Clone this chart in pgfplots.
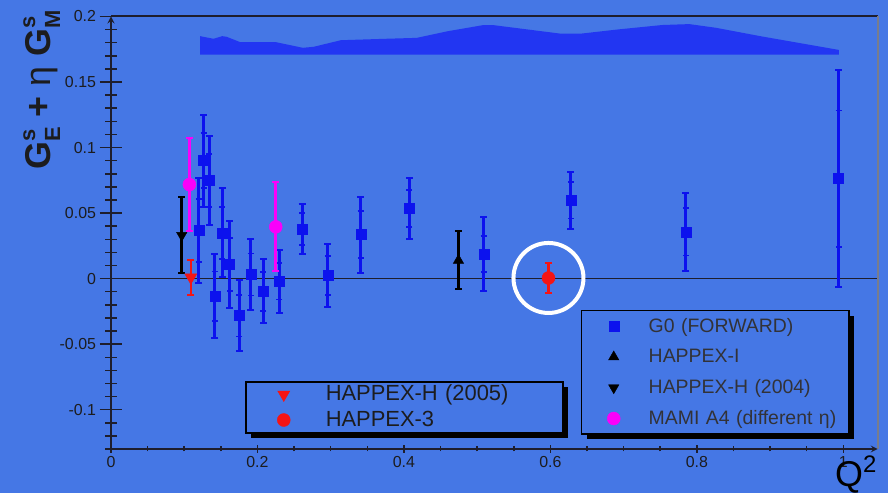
\documentclass[border=0pt]{standalone}
\usepackage{fontspec}
\setmainfont{Liberation Sans}
\usepackage{pgfplots}
\usepackage{pgfplotstable}
\pgfplotsset{compat=1.18}
\usetikzlibrary{shadows}

\definecolor{bgblue}{RGB}{69,119,229}
\definecolor{bandblue}{RGB}{34,54,242}
\definecolor{gblue}{RGB}{12,18,238}
\definecolor{axdark}{RGB}{30,30,45}
\definecolor{axgray}{RGB}{120,125,140}
\definecolor{txt}{RGB}{28,28,30}
\definecolor{legtxt}{RGB}{50,50,55}
\definecolor{mred}{RGB}{245,20,20}
\definecolor{mmag}{RGB}{250,0,250}

\pgfplotstableread{
x y e s
0.1200 0.0366 0.0400 0.024
0.1265 0.0900 0.0350 0.021
0.1340 0.0748 0.0340 0.020
0.1420 -0.0135 0.0320 0.019
0.1520 0.0349 0.0340 0.020
0.1620 0.0107 0.0330 0.020
0.1750 -0.0282 0.0270 0.016
0.1910 0.0031 0.0270 0.016
0.2080 -0.0097 0.0245 0.015
0.2300 -0.0020 0.0240 0.014
0.2610 0.0379 0.0190 0.012
0.2960 0.0025 0.0240 0.015
0.3410 0.0336 0.0290 0.018
0.4075 0.0534 0.0235 0.014
0.5090 0.0188 0.0280 0.014
0.6280 0.0598 0.0217 0.014
0.7850 0.0356 0.0300 0.018
0.9935 0.0763 0.0825 0.052
}\gzero

\pgfplotstableread{
x y
0.1217 0.1710
0.1217 0.1850
0.1400 0.1830
0.1520 0.1850
0.1580 0.1845
0.1766 0.1804
0.2254 0.1804
0.2620 0.1761
0.2770 0.1769
0.3138 0.1819
0.3749 0.1830
0.4175 0.1837
0.4602 0.1888
0.5090 0.1935
0.5210 0.1935
0.6127 0.1870
0.6430 0.1870
0.6920 0.1901
0.7527 0.1935
0.7896 0.1942
0.8260 0.1914
0.8866 0.1850
0.9939 0.1745
0.9939 0.1710
}\band

\pgfplotstableread{
x y e
0.4745 0.0139 0.0222
}\happexI

\pgfplotstableread{
x y e
0.0966 0.0330 0.0290
}\happexHa

\pgfplotstableread{
x y e
0.1070 0.0718 0.0357
0.2250 0.0395 0.0340
}\mami

\pgfplotstableread{
x y e
0.1090 0.0010 0.0134
}\happexHb

\pgfplotstableread{
x y e
0.5974 0.0005 0.0115
}\happexIII

\pgfplotsset{
  legA/.style={legend image code/.code={\path[draw=none,fill=none] (0bp,0bp) (50bp,0bp);\draw[##1] plot coordinates {(32bp,0bp)};}},
  legB/.style={legend image code/.code={\path[draw=none,fill=none] (0bp,0bp) (60bp,0bp);\draw[##1] plot coordinates {(38bp,0bp)};}},
  baseax/.style={at={(111bp,44bp)}, anchor=south west, width=766.7bp, height=432.5bp,
    scale only axis, xmin=0, xmax=1.047, ymin=-0.13, ymax=0.2, clip=false,
    axis line style={-, line width=2bp, axdark},
    tick align=inside, tick style={line width=1.5bp, axdark},
    legend cell align=left},
}

\begin{document}
\begin{tikzpicture}
\path[use as bounding box] (0,0) rectangle (888bp,493bp);
\fill[bgblue] (0,0) rectangle (888bp,493bp);

\begin{axis}[baseax,
  axis x line=none, axis y line=left,
  ytick={-0.1,-0.05,0,0.05,0.1,0.15,0.2},
  yticklabels={-0.1,-0.05,0,0.05,0.1,0.15,0.2},
  minor ytick={-0.13,-0.12,-0.11,-0.09,-0.08,-0.07,-0.06,-0.04,-0.03,-0.02,-0.01,0.01,0.02,0.03,0.04,0.06,0.07,0.08,0.09,0.11,0.12,0.13,0.14,0.16,0.17,0.18,0.19},
  major tick length=23bp, minor tick length=12bp,
  yticklabel style={font=\fontsize{16}{16}\selectfont, text=txt},
  legend style={at={(0.613,0.3214)}, anchor=north west, fill=bgblue, draw=black, line width=1.5bp,
    inner sep=0pt,
    drop shadow={shadow xshift=5bp, shadow yshift=-5bp, opacity=1, fill=black},
    nodes={text width=183bp, inner xsep=17bp, inner ysep=6.4bp, text height=15bp, text depth=3bp,
      font=\fontsize{19.5}{19.5}\selectfont, text=legtxt, align=left}},
]
\addplot[forget plot, fill=bandblue, draw=none] table[x=x,y=y]{\band};
\addplot[forget plot, axdark, line width=1.5bp] coordinates {(0,0) (1.047,0)};

\addplot[legA, only marks, gblue, mark=square*, mark size=5bp, mark options={solid, line width=0.4bp},
  error bars/.cd, y dir=both, y explicit,
  error bar style={line width=3bp, gblue},
  error mark=|, error mark options={gblue, line width=2bp, mark size=3.5bp}]
  table[x=x,y=y,y error=e]{\gzero};
\addlegendentry{G0 (FORWARD)}

\addplot[forget plot, only marks, gblue, mark=none,
  error bars/.cd, y dir=both, y explicit,
  error bar style={line width=3bp, gblue},
  error mark=|, error mark options={gblue, line width=1.8bp, mark size=3bp}]
  table[x=x,y=y,y error=s]{\gzero};

\addplot[legA, only marks, black, mark=triangle*, mark size=6bp, mark options={solid, line width=0.4bp},
  error bars/.cd, y dir=both, y explicit,
  error bar style={line width=2.5bp, black},
  error mark=|, error mark options={black, line width=2bp, mark size=3.5bp}]
  table[x=x,y=y,y error=e]{\happexI};
\addlegendentry{HAPPEX-I}

\addplot[legA, only marks, black, mark=triangle*, mark size=6bp, mark options={solid, rotate=180, line width=0.4bp},
  error bars/.cd, y dir=both, y explicit,
  error bar style={line width=2.5bp, black},
  error mark=|, error mark options={black, line width=2bp, mark size=3.5bp}]
  table[x=x,y=y,y error=e]{\happexHa};
\addlegendentry{HAPPEX-H (2004)}

\addplot[legA, only marks, mmag, mark=*, mark size=6.5bp, mark options={solid, line width=0.4bp},
  error bars/.cd, y dir=both, y explicit,
  error bar style={line width=3bp, mmag},
  error mark=|, error mark options={mmag, line width=2bp, mark size=3.5bp}]
  table[x=x,y=y,y error=e]{\mami};
\addlegendentry{\mbox{MAMI A4 (different η)}}

\draw[axdark, line width=2bp] (rel axis cs:0,1) -- (rel axis cs:1,1);
\draw[axgray, line width=2bp] (rel axis cs:1,1) -- (rel axis cs:1,0);
\end{axis}

\begin{axis}[baseax,
  axis x line=bottom, axis y line=none,
  xtick={0,0.2,0.4,0.6,0.8,1},
  xticklabels={0,0.2,0.4,0.6,0.8,1},
  minor x tick num=3,
  major tick length=8bp, minor tick length=5bp,
  xticklabel style={font=\fontsize{16}{16}\selectfont, text=txt},
  legend style={at={(0.1748,0.1572)}, anchor=north west, fill=bgblue, draw=black, line width=1.5bp,
    inner sep=0pt,
    drop shadow={shadow xshift=5bp, shadow yshift=-5bp, opacity=1, fill=black},
    nodes={text width=217bp, inner xsep=20bp, inner ysep=2.75bp, text height=16bp, text depth=4bp,
      font=\fontsize{22}{22}\selectfont, text=txt, align=left}},
]
\addplot[legB, only marks, mred, mark=triangle*, mark size=7bp, mark options={solid, rotate=180, line width=0.4bp},
  error bars/.cd, y dir=both, y explicit,
  error bar style={line width=2.5bp, mred},
  error mark=|, error mark options={mred, line width=2bp, mark size=3.5bp}]
  table[x=x,y=y,y error=e]{\happexHb};
\addlegendentry{HAPPEX-H (2005)}

\addplot[legB, only marks, mred, mark=*, mark size=6.5bp, mark options={solid, line width=0.4bp},
  error bars/.cd, y dir=both, y explicit,
  error bar style={line width=2.5bp, mred},
  error mark=|, error mark options={mred, line width=2bp, mark size=3.5bp}]
  table[x=x,y=y,y error=e]{\happexIII};
\addlegendentry{HAPPEX-3}

\addplot[forget plot, only marks, white, mark=o, mark size=35bp, mark options={line width=4bp}]
  table[x=x,y=y]{\happexIII};
\end{axis}

\node[rotate=90, anchor=base west, text=txt, inner sep=0pt, font=\fontsize{36}{36}\selectfont\bfseries]
  at (50bp,323bp)
  {G\makebox[0pt][l]{\raisebox{15bp}{\fontsize{22}{22}\selectfont s}}\raisebox{-10bp}{\fontsize{22}{22}\selectfont E} + {\mdseries η} G\makebox[0pt][l]{\raisebox{15bp}{\fontsize{22}{22}\selectfont s}}\raisebox{-10bp}{\fontsize{22}{22}\selectfont M}};

\node[anchor=base west, inner sep=0pt, text=black, font=\fontsize{36}{36}\selectfont]
  at (835bp,7bp) {Q\raisebox{14bp}{\fontsize{24}{24}\selectfont 2}};
\end{tikzpicture}
\end{document}
